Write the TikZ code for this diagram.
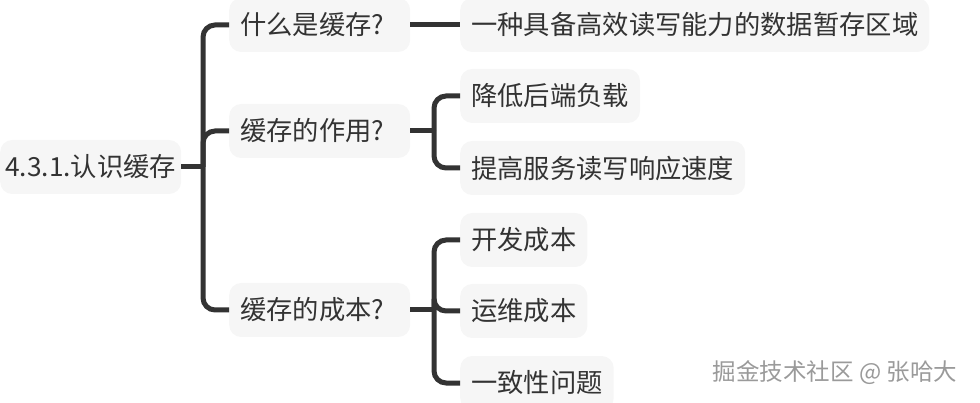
\documentclass[tikz,border=0pt]{standalone}
\usepackage{fontspec}
\setmainfont{Noto Sans CJK SC}
\definecolor{boxgray}{HTML}{F6F6F6}
\definecolor{txt}{HTML}{333333}
\definecolor{linec}{HTML}{333333}
\definecolor{wm}{HTML}{9A9A9A}
\begin{document}
\begin{tikzpicture}[x=1pt,y=-1pt,
  box/.style={fill=boxgray, rounded corners=12pt, inner xsep=11pt, inner ysep=0pt,
    minimum height=54pt, anchor=west, text=txt, font=\fontsize{26.3}{30}\selectfont},
  qbox/.style={box, text width=159pt, align=left},
  conn/.style={draw=linec, line width=5pt, rounded corners=12pt}]
\useasboundingbox (0,0) rectangle (980,403);
% nodes
\node[box, inner xsep=5pt] (root) at (0,167) {4.3.1.认识缓存};
\node[qbox] (q1) at (229,25) {什么是缓存?};
\node[qbox] (q2) at (229,131) {缓存的作用?};
\node[qbox] (q3) at (229,310) {缓存的成本?};
\node[box] (a1) at (460,25) {一种具备高效读写能力的数据暂存区域};
\node[box] (b1) at (460,96) {降低后端负载};
\node[box] (b2) at (460,168) {提高服务读写响应速度};
\node[box] (c1) at (460,240) {开发成本};
\node[box] (c2) at (460,311) {运维成本};
\node[box] (c3) at (460,383) {一致性问题};
\node[anchor=center, text=wm, font=\fontsize{23.5}{26}\selectfont] (wmk) at (835,373) {掘金技术社区 @ 张哈大};
% junctions
\coordinate (j0) at (203,167);
\coordinate (j2) at (434,131);
\coordinate (j3) at (434,310);
% connectors
\draw[conn] (root.east) -- (j0);
\draw[conn] (j0) |- (q1.west);
\draw[conn] (j0) |- (q2.west);
\draw[conn] (j0) |- (q3.west);
\draw[conn] (q1.east) -- (a1.west);
\draw[conn] (q2.east) -- (j2);
\draw[conn] (j2) |- (b1.west);
\draw[conn] (j2) |- (b2.west);
\draw[conn] (q3.east) -- (j3);
\draw[conn] (j3) |- (c1.west);
\draw[conn] (j3) |- (c2.west);
\draw[conn] (j3) |- (c3.west);
\end{tikzpicture}
\end{document}
